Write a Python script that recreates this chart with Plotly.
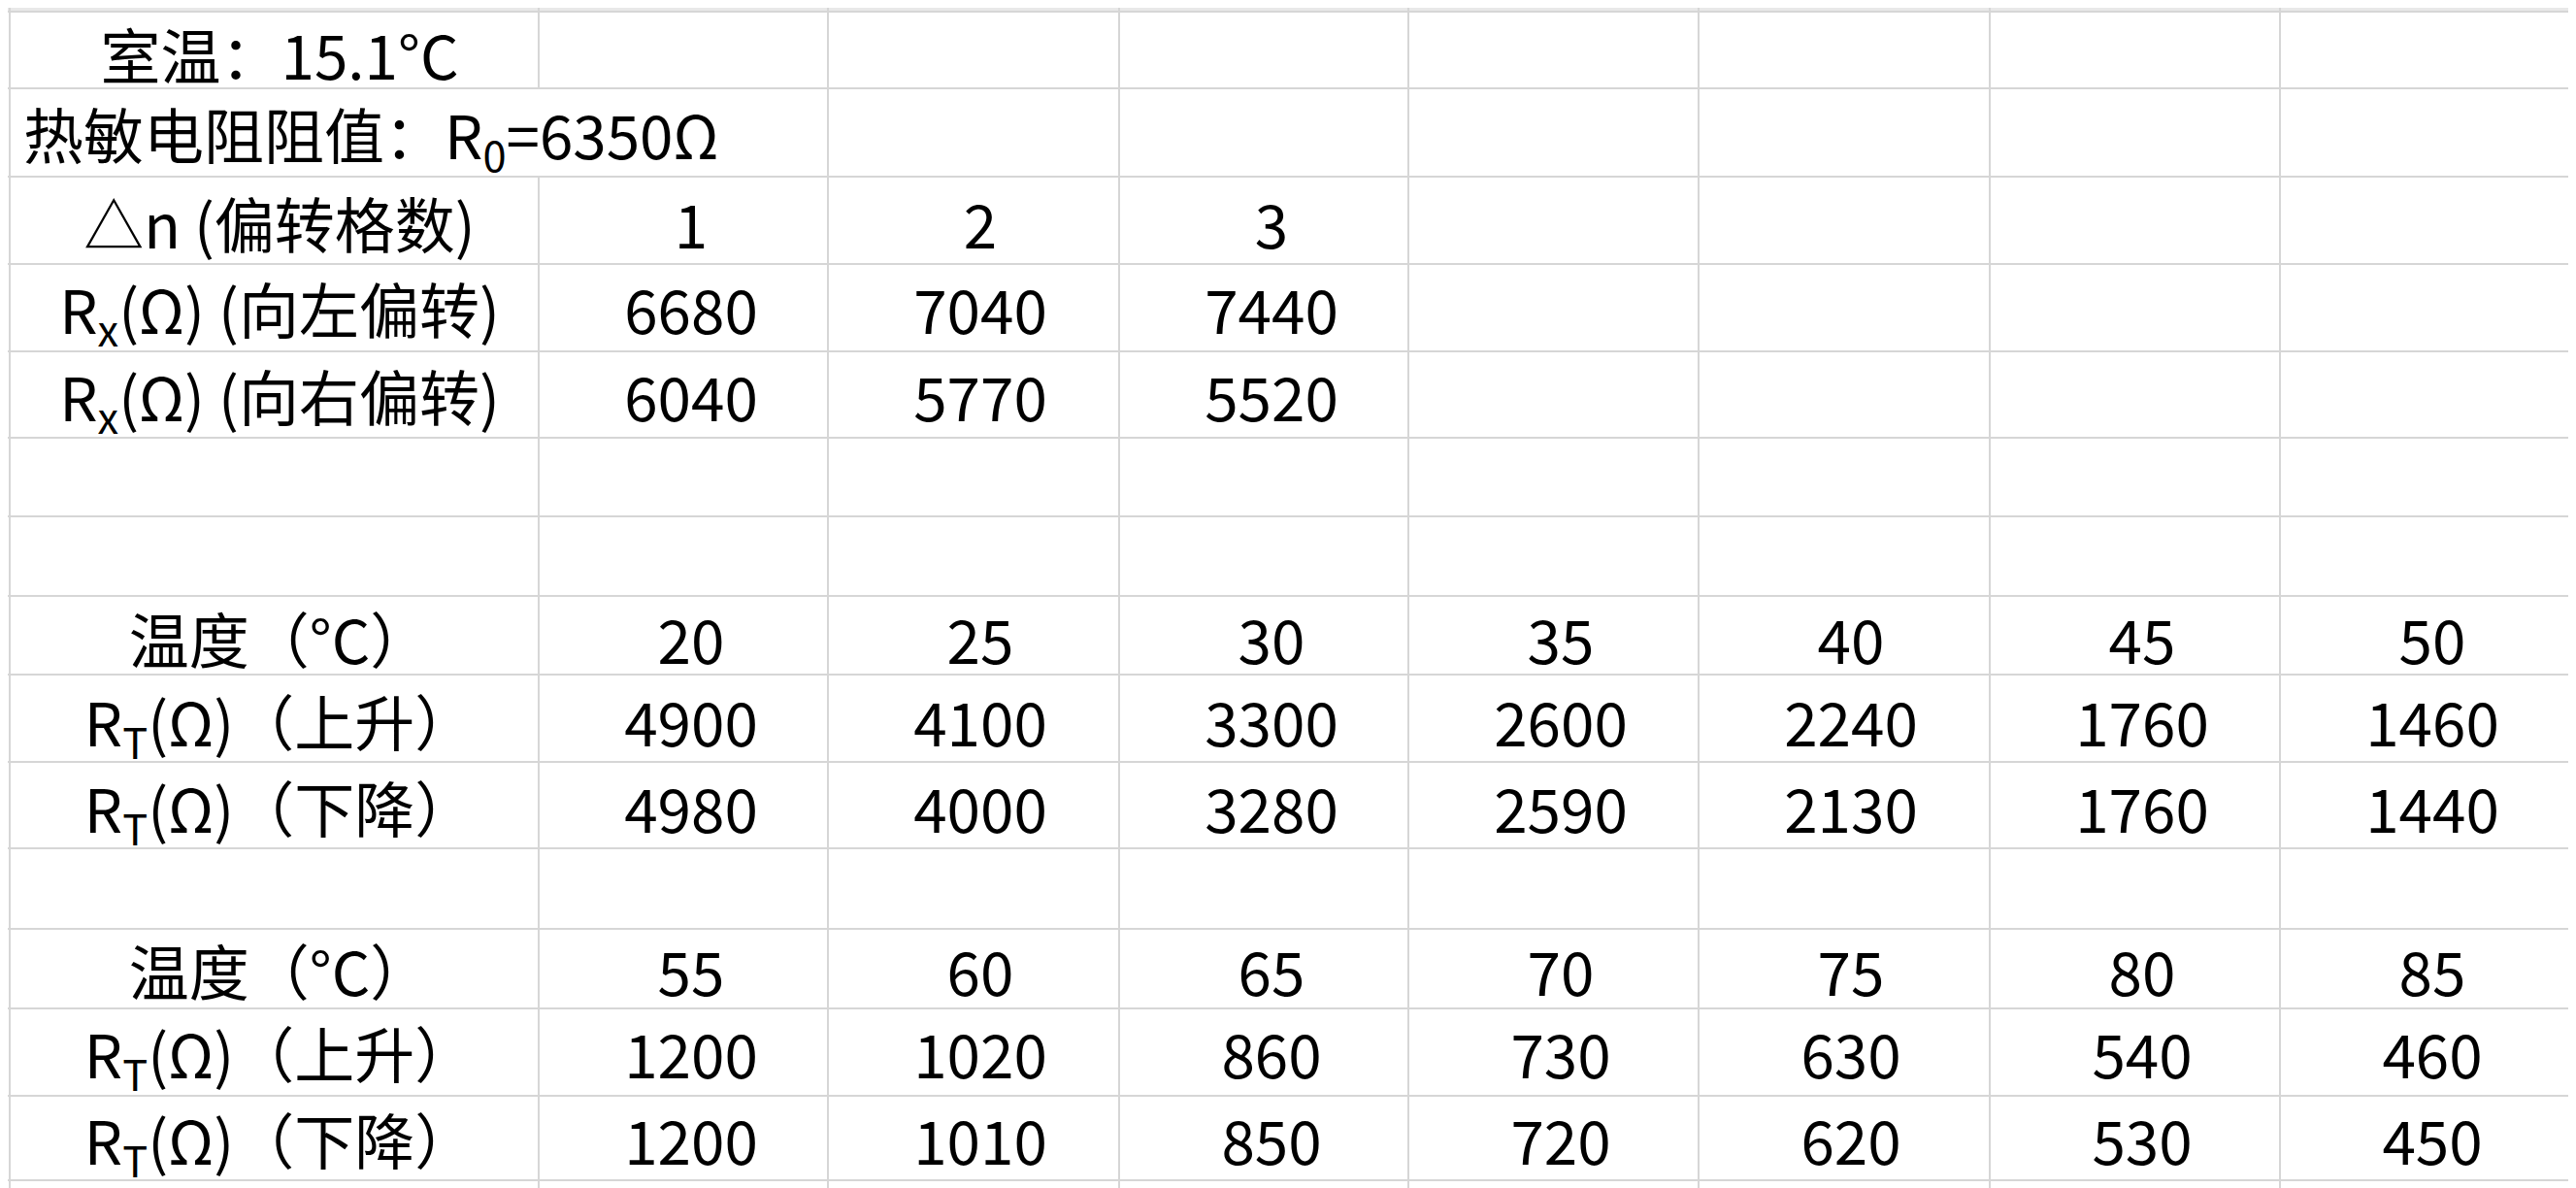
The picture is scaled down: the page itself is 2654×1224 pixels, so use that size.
import plotly.graph_objects as go

W, H = 2654, 1224
col_edges = [2, 547, 845, 1145, 1443, 1742, 2042, 2341, 2641]
row_edges = [4, 83, 174, 264, 354, 443, 524, 606, 687, 777, 866, 949, 1031, 1121, 1208]
col_centers = [280, 704, 1002, 1302, 1600, 1899, 2199, 2498]

title1 = "室温：15.1°C"
title2 = "热敏电阻阻值：R<sub>0</sub>=6350Ω"

dn_label = "△n (偏转格数)"
dn = [1, 2, 3]
left_label = "R<sub>x</sub>(Ω) (向左偏转)"
rx_left = [6680, 7040, 7440]
right_label = "R<sub>x</sub>(Ω) (向右偏转)"
rx_right = [6040, 5770, 5520]

temp_label = "温度（°C）"
up_label = "R<sub>T</sub>(Ω)（上升）"
down_label = "R<sub>T</sub>(Ω)（下降）"
temp1 = [20, 25, 30, 35, 40, 45, 50]
up1 = [4900, 4100, 3300, 2600, 2240, 1760, 1460]
down1 = [4980, 4000, 3280, 2590, 2130, 1760, 1440]
temp2 = [55, 60, 65, 70, 75, 80, 85]
up2 = [1200, 1020, 860, 730, 630, 540, 460]
down2 = [1200, 1010, 850, 720, 620, 530, 450]

rows = [
    (232, dn_label, dn),
    (320, left_label, rx_left),
    (410, right_label, rx_right),
    (660, temp_label, temp1),
    (745, up_label, up1),
    (834, down_label, down1),
    (1002, temp_label, temp2),
    (1087, up_label, up2),
    (1176, down_label, down2),
]

xs, ys, ts = [col_centers[0]], [58], [title1]
for y, lab, vals in rows:
    xs.append(col_centers[0]); ys.append(y); ts.append(lab)
    for i, v in enumerate(vals):
        xs.append(col_centers[i + 1]); ys.append(y); ts.append(str(v))

fig = go.Figure()
font = dict(family="Noto Sans CJK SC", size=62, color="black")
fig.add_trace(go.Scatter(x=xs, y=ys, text=ts, mode="text", textposition="middle center",
                         textfont=font, hoverinfo="skip", showlegend=False))
fig.add_trace(go.Scatter(x=[16], y=[140], text=[title2], mode="text", textposition="middle right",
                         textfont=font, hoverinfo="skip", showlegend=False))

shapes = [dict(type="rect", x0=0, x1=W, y0=0, y1=row_edges[0], fillcolor="#e8e8e8", line_width=0, layer="below")]
gc = "#d6d6d6"
for y in row_edges:
    shapes.append(dict(type="line", x0=0, x1=W, y0=y, y1=y, line=dict(color=gc, width=2), layer="below"))
for i, x in enumerate(col_edges):
    if i == 1:
        shapes.append(dict(type="line", x0=x, x1=x, y0=0, y1=row_edges[1], line=dict(color=gc, width=2), layer="below"))
        shapes.append(dict(type="line", x0=x, x1=x, y0=row_edges[2], y1=H, line=dict(color=gc, width=2), layer="below"))
    else:
        shapes.append(dict(type="line", x0=x, x1=x, y0=0, y1=H, line=dict(color=gc, width=2), layer="below"))

fig.update_layout(width=W, height=H, margin=dict(l=0, r=0, t=0, b=0),
                  paper_bgcolor="white", plot_bgcolor="white", shapes=shapes,
                  xaxis=dict(range=[0, W], visible=False, fixedrange=True),
                  yaxis=dict(range=[H, 0], visible=False, fixedrange=True))
fig.write_html("out.html", config={"displayModeBar": False})
